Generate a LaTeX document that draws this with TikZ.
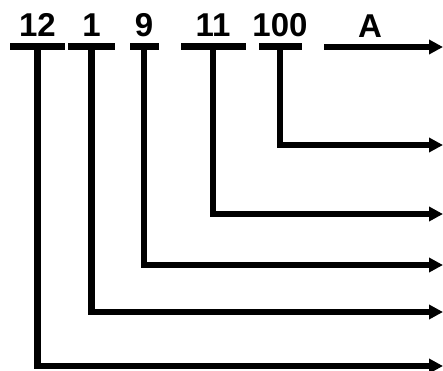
\documentclass[tikz,border=0pt]{standalone}
\usepackage{fontspec}
\setmainfont{Liberation Sans}
\usetikzlibrary{arrows.meta,positioning}

\begin{document}
\begin{tikzpicture}[
  x=1pt, y=-1pt,
  font=\fontsize{33}{38}\selectfont\bfseries,
  bar/.style={fill=black, inner sep=0pt, minimum height=6.5pt},
  lbl/.style={inner sep=0pt},
  arr/.style={-{Triangle[length=14pt,width=14pt]}, line width=6.5pt}
]
\useasboundingbox (0,0) rectangle (443,370);
\node[bar, minimum width=55pt] (b12) at (37.5,46.5) {};
\node[bar, minimum width=47pt] (b1) at (91.5,46.5) {};
\node[bar, minimum width=29pt] (b9) at (144,46.5) {};
\node[bar, minimum width=65pt] (b11) at (213,46.5) {};
\node[bar, minimum width=43pt] (b100) at (280,46.5) {};
\node[lbl, above=6pt of b12] (t12) {12};
\node[lbl, above=6pt of b1] (t1) {1};
\node[lbl, above=6pt of b9] (t9) {9};
\node[lbl, above=6pt of b11] (t11) {11};
\node[lbl, above=6pt of b100] (t100) {100};
\coordinate (sA) at (324,47);
\coordinate (eA) at (443,47);
\node[lbl, anchor=base] (tA) at (370,37) {A};
\coordinate (e100) at (443,145);
\coordinate (e11) at (443,214);
\coordinate (e9) at (443,265);
\coordinate (e1) at (443,312);
\coordinate (e12) at (443,366);
\draw[arr] (sA) -- (eA);
\draw[arr] (b100.center) |- (e100);
\draw[arr] (b11.center) |- (e11);
\draw[arr] (b9.center) |- (e9);
\draw[arr] (b1.center) |- (e1);
\draw[arr] (b12.center) |- (e12);
\end{tikzpicture}
\end{document}
